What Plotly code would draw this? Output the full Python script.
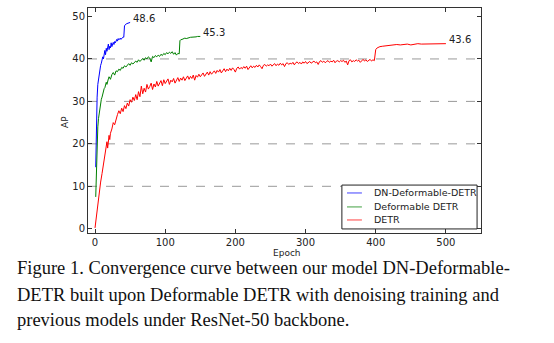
import plotly.graph_objects as go

# ---------------- data ----------------
blue_epochs = list(range(1, 51))
blue_ap = [14.5, 26.0, 31.0, 34.0, 35.5, 37.0, 37.5, 38.5, 39.0, 39.5,
           40.5, 40.0, 41.5, 42.0, 41.0, 42.5, 41.8, 42.8, 43.5, 42.2,
           43.0, 42.6, 43.8, 42.9, 43.5, 43.9, 43.4, 44.1, 43.8, 44.3,
           44.6, 44.2, 44.8, 44.5, 44.7, 44.9, 44.6, 45.0, 45.0, 45.2,
           45.1, 47.8, 48.1, 48.2, 48.3, 48.4, 48.5, 48.5, 48.6, 48.6]

green_epochs = list(range(1, 21)) + list(range(22, 121, 2)) + [121, 122] + list(range(124, 151, 2))
green_ap = [7.5, 16.0, 21.0, 24.0, 26.0, 27.5, 28.5, 29.5, 30.5, 31.0,
            31.8, 32.0, 33.0, 33.2, 33.8, 34.5, 34.0, 35.0, 35.3, 35.8,
            35.2, 36.3, 36.8, 36.2, 37.2, 37.0, 37.6, 37.3, 38.0, 37.8,
            38.4, 38.1, 38.6, 38.9, 38.5, 39.1, 38.8, 39.3, 39.5, 39.2,
            39.8, 39.4, 39.9, 40.1, 39.7, 40.3, 40.0, 40.5, 40.2, 39.3,
            40.6, 40.3, 40.8, 40.5, 40.9, 40.6, 41.1, 40.8, 41.3, 41.0,
            41.5, 41.2, 41.6, 41.3, 41.7, 41.1, 41.5, 40.9, 41.3, 41.2,
            44.3, 44.5,
            44.6, 44.8, 44.9, 44.8, 45.0, 45.0, 45.1, 45.1, 45.2, 45.2,
            45.2, 45.3, 45.3, 45.3]

red_epochs = ([0, 2, 4, 6, 8, 10, 12, 14, 16, 17, 18, 20, 21, 22, 24, 26, 28, 30]
              + list(range(32, 399, 2)) + [400, 402, 406, 410]
              + list(range(415, 501, 5)))
red_ap = [0.2, 3.0, 6.0, 9.0, 11.0, 13.0, 15.5, 17.0, 19.5, 20.5, 19.0, 22.0, 21.0, 22.5, 23.5, 25.0, 24.5, 26.0,
          26.9, 27.8, 27.1, 28.4, 27.6, 29.0, 28.3, 29.6, 28.9, 30.4,
          29.8, 31.0, 30.2, 31.6, 30.4, 32.3, 31.1, 33.6, 31.8, 33.1,
          32.2, 34.0, 32.9, 33.5, 34.3, 32.8, 34.1, 33.4, 34.7, 33.6,
          34.5, 34.9, 33.7, 35.1, 34.2, 34.8, 35.3, 34.0, 35.0, 34.6,
          35.4, 34.3, 35.2, 35.6, 34.7, 35.5, 35.0, 35.8, 34.9, 35.6,
          36.0, 35.2, 35.9, 35.4, 36.2, 35.0, 36.1, 35.7, 36.4, 35.8,
          36.3, 36.7, 35.9, 36.5, 36.9, 36.2, 37.0, 36.4, 36.8, 37.2,
          36.6, 37.3, 36.9, 37.5, 36.7, 37.4, 37.7, 37.0, 37.6, 37.2,
          37.8, 37.3, 37.9, 37.5, 36.9, 37.8, 38.1, 37.6, 38.0, 37.7,
          38.2, 37.8, 38.3, 37.5, 38.1, 38.4, 37.9, 38.3, 38.0, 38.5,
          38.1, 38.6, 38.2, 37.7, 38.5, 38.7, 38.3, 38.6, 38.4, 38.8,
          38.3, 38.7, 38.9, 38.4, 38.8, 38.5, 39.0, 38.6, 38.9, 38.2,
          38.9, 39.1, 38.7, 39.0, 38.8, 39.2, 38.6, 39.1, 39.3, 38.9,
          39.2, 38.8, 39.3, 39.0, 39.4, 38.9, 39.2, 39.4, 39.0, 39.3,
          39.5, 39.1, 39.3, 38.7, 39.4, 39.6, 39.2, 39.5, 39.1, 39.4,
          39.6, 39.2, 39.5, 39.3, 39.7, 39.1, 39.5, 39.6, 39.3, 39.6,
          39.4, 39.7, 39.2, 39.5, 38.6, 39.6, 39.8, 39.3, 39.6, 39.4,
          39.8, 39.5, 39.7, 39.2, 39.6, 39.9, 39.5, 39.8, 39.4, 39.7,
          39.9, 39.5, 39.8, 39.6,
          42.2, 42.6, 42.9, 43.0,
          43.1, 43.2, 43.3, 43.4, 43.3, 43.4, 43.5, 43.3, 43.5, 43.6,
          43.5, 43.5, 43.6, 43.5, 43.6, 43.6, 43.5, 43.6]

series_names = ["DN-Deformable-DETR", "Deformable DETR", "DETR"]
series_colors = ["#0000ff", "#008000", "#ff0000"]
legend_colors = ["#8080ff", "#80c080", "#ff8080"]
end_labels = ["48.6", "45.3", "43.6"]

x_ticks = [0, 100, 200, 300, 400, 500]
y_ticks = [0, 10, 20, 30, 40, 50]
grid_levels = [10, 20, 30, 40]

caption_lines = [
    "Figure 1. Convergence curve between our model DN-Deformable-",
    "DETR built upon Deformable DETR with denoising training and",
    "previous models under ResNet-50 backbone.",
]

# ---------------- figure ----------------
fig = go.Figure()
all_x = [blue_epochs, green_epochs, red_epochs]
all_y = [blue_ap, green_ap, red_ap]

for xs, ys, name, col in zip(all_x, all_y, series_names, series_colors):
    fig.add_trace(go.Scatter(x=xs, y=ys, mode="lines", name=name,
                             line=dict(color=col, width=1), showlegend=False))

for xs, ys, lab in zip(all_x, all_y, end_labels):
    fig.add_annotation(x=xs[-1], y=ys[-1], text=lab, showarrow=False,
                       xanchor="left", yanchor="middle", xshift=1, yshift=4,
                       font=dict(family="DejaVu Sans", size=10, color="#222"))

for g in grid_levels:
    fig.add_shape(type="line", xref="paper", x0=0, x1=1, yref="y", y0=g, y1=g,
                  line=dict(color="#999999", width=1, dash="dash"), layer="below")

# legend box (drawn by hand for compact rows)
fig.add_shape(type="rect", xref="paper", yref="paper", x0=0.646, x1=0.990, y0=0.018, y1=0.213,
              line=dict(color="#222", width=1), fillcolor="white", layer="above")
legend_rows_y = [0.178, 0.116, 0.058]
for name, col, ry in zip(series_names, legend_colors, legend_rows_y):
    fig.add_shape(type="line", xref="paper", yref="paper", x0=0.659, x1=0.697, y0=ry, y1=ry,
                  line=dict(color=col, width=1.5), layer="above")
    fig.add_annotation(xref="paper", yref="paper", x=0.723, y=ry, text=name, showarrow=False,
                       xanchor="left", yanchor="middle",
                       font=dict(family="DejaVu Sans", size=9.5, color="#222"))

axis_common = dict(showgrid=False, zeroline=False, showline=True, linecolor="#333",
                   linewidth=1, mirror="allticks", ticks="inside", ticklen=4,
                   tickcolor="#333", tickfont=dict(family="DejaVu Sans", size=10, color="#222"))
fig.update_xaxes(range=[-10, 550], tickvals=x_ticks, **axis_common)
fig.update_yaxes(range=[-1, 52], tickvals=y_ticks, **axis_common)

fig.add_annotation(xref="paper", yref="paper", x=0.506, y=-0.09, text="Epoch",
                   xanchor="center", yanchor="middle",
                   showarrow=False, font=dict(family="DejaVu Sans", size=9, color="#222"))
fig.add_annotation(xref="paper", yref="paper", x=-0.059, y=0.493, text="AP", textangle=-90,
                   xanchor="center", yanchor="middle",
                   showarrow=False, font=dict(family="DejaVu Sans", size=9, color="#222"))

cap_y = [-0.156, -0.276, -0.387]
for t, yy in zip(caption_lines, cap_y):
    fig.add_annotation(xref="paper", yref="paper", x=-0.186, y=yy, text=t,
                       xanchor="left", yanchor="middle", showarrow=False,
                       font=dict(family="Liberation Serif", size=18.5, color="#111"))

fig.update_layout(
    width=554, height=343,
    margin=dict(l=88, r=73, t=8, b=110),
    paper_bgcolor="white", plot_bgcolor="white",
    showlegend=False,
)

fig.write_html("out.html")
